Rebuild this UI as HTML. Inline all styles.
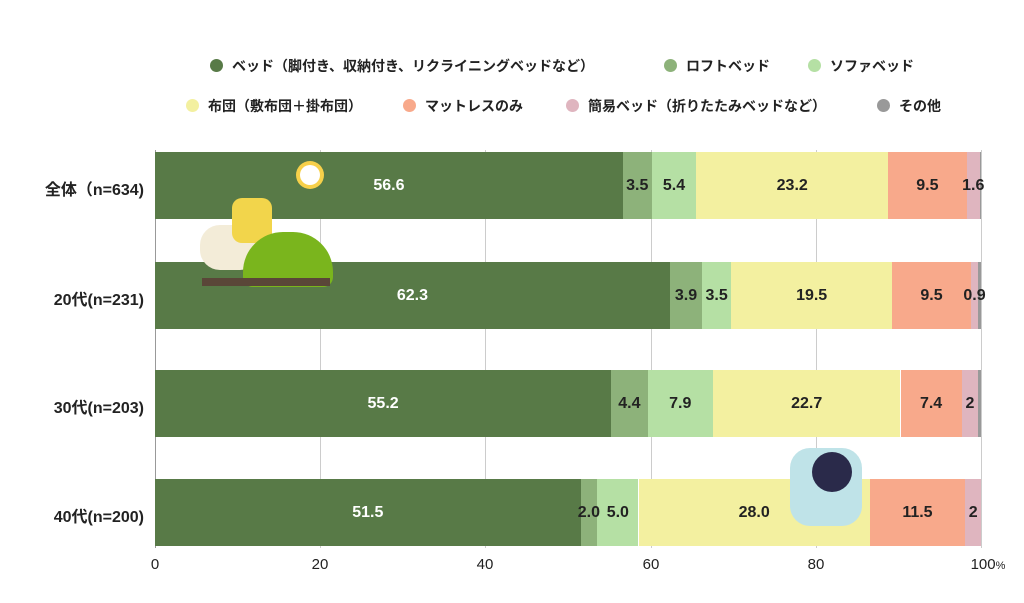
<!DOCTYPE html>
<html><head><meta charset="utf-8"><style>
body{margin:0;width:1024px;height:603px;background:#fff;position:relative;overflow:hidden;font-family:"Liberation Sans","Noto Sans CJK JP",sans-serif;font-weight:bold;color:#222}
.a{position:absolute;z-index:5}
.dot{position:absolute;width:13px;height:13px;border-radius:50%}
.lg{position:absolute;font-size:14px;line-height:16px;white-space:nowrap}
.seg{position:absolute}
.lab{position:absolute;display:flex;align-items:center;justify-content:center;font-size:16px;white-space:nowrap;z-index:3;height:67px}
.yl{position:absolute;right:880px;font-size:16px;white-space:nowrap}
.grid{position:absolute;top:150px;height:398px;width:1px;background:#ccc}
.xt{position:absolute;top:556px;font-size:15px;font-weight:normal;transform:translateX(-50%)}
</style></head><body>
<div class="dot" style="left:210px;top:59px;background:#587a47"></div><div class="lg" style="left:232px;top:58px">ベッド（脚付き、収納付き、リクライニングベッドなど）</div>
<div class="dot" style="left:664px;top:59px;background:#8db27a"></div><div class="lg" style="left:686px;top:58px">ロフトベッド</div>
<div class="dot" style="left:808px;top:59px;background:#b5e0a4"></div><div class="lg" style="left:830px;top:58px">ソファベッド</div>
<div class="dot" style="left:186px;top:99px;background:#f3f0a0"></div><div class="lg" style="left:208px;top:98px">布団（敷布団＋掛布団）</div>
<div class="dot" style="left:403px;top:99px;background:#f8a98b"></div><div class="lg" style="left:425px;top:98px">マットレスのみ</div>
<div class="dot" style="left:566px;top:99px;background:#dfb5bf"></div><div class="lg" style="left:588px;top:98px">簡易ベッド（折りたたみベッドなど）</div>
<div class="dot" style="left:877px;top:99px;background:#999"></div><div class="lg" style="left:899px;top:98px">その他</div>
<div class="grid" style="left:155px;background:#999"></div>
<div class="grid" style="left:320px"></div><div class="grid" style="left:485px"></div><div class="grid" style="left:651px"></div><div class="grid" style="left:816px"></div><div class="grid" style="left:981px"></div>
<div id="bars"></div>
<div class="yl" style="top:176px">全体（n=634)</div>
<div class="yl" style="top:286px">20代(n=231)</div>
<div class="yl" style="top:394px">30代(n=203)</div>
<div class="yl" style="top:503px">40代(n=200)</div>
<div class="xt" style="left:155px">0</div><div class="xt" style="left:320px">20</div><div class="xt" style="left:485px">40</div><div class="xt" style="left:651px">60</div><div class="xt" style="left:816px">80</div><div class="xt" style="left:988px">100<span style="font-size:11px">%</span></div>
<div class="a" style="left:296px;top:161px;width:28px;height:28px;border-radius:50%;background:#f7d04a"><div style="margin:4px;width:20px;height:20px;border-radius:50%;background:#fff"></div></div>
<div class="a" style="left:200px;top:225px;width:60px;height:45px;border-radius:20px;background:#f3ecd8"></div>
<div class="a" style="left:232px;top:198px;width:40px;height:45px;border-radius:10px;background:#f2d54b"></div>
<div class="a" style="left:243px;top:232px;width:90px;height:55px;border-radius:40px 40px 10px 10px;background:#7ab51d"></div>
<div class="a" style="left:202px;top:278px;width:128px;height:8px;background:#5a4638"></div>
<div class="a" style="left:790px;top:448px;width:72px;height:78px;border-radius:20px;background:#bfe3e8"></div>
<div class="a" style="left:812px;top:452px;width:40px;height:40px;border-radius:50%;background:#2a2a4a"></div>
<script>
var C=["#587a47","#8db27a","#b5e0a4","#f3f0a0","#f8a98b","#dfb5bf","#999"];
var R=[[152,[56.6,3.5,5.4,23.2,9.5,1.6,0.2],["56.6","3.5","5.4","23.2","9.5","1.6",""]],
[262,[62.3,3.9,3.5,19.5,9.5,0.9,0.4],["62.3","3.9","3.5","19.5","9.5","0.9",""]],
[370,[55.2,4.4,7.9,22.7,7.4,2,0.4],["55.2","4.4","7.9","22.7","7.4","2",""]],
[479,[51.5,2,5,28,11.5,2,0],["51.5","2.0","5.0","28.0","11.5","2",""]]];
var h="";R.forEach(function(r){var x=155;r[1].forEach(function(v,i){var w=v*8.265;h+='<div class="seg" style="left:'+x+'px;top:'+r[0]+'px;width:'+w+'px;height:67px;background:'+C[i]+'"></div>';h+='<div class="lab" style="left:'+x+'px;top:'+r[0]+'px;width:'+w+'px;color:'+(i==0?'#fff':'#222')+'">'+r[2][i]+'</div>';x+=w;});});
document.getElementById("bars").innerHTML=h;
</script>
</body></html>
